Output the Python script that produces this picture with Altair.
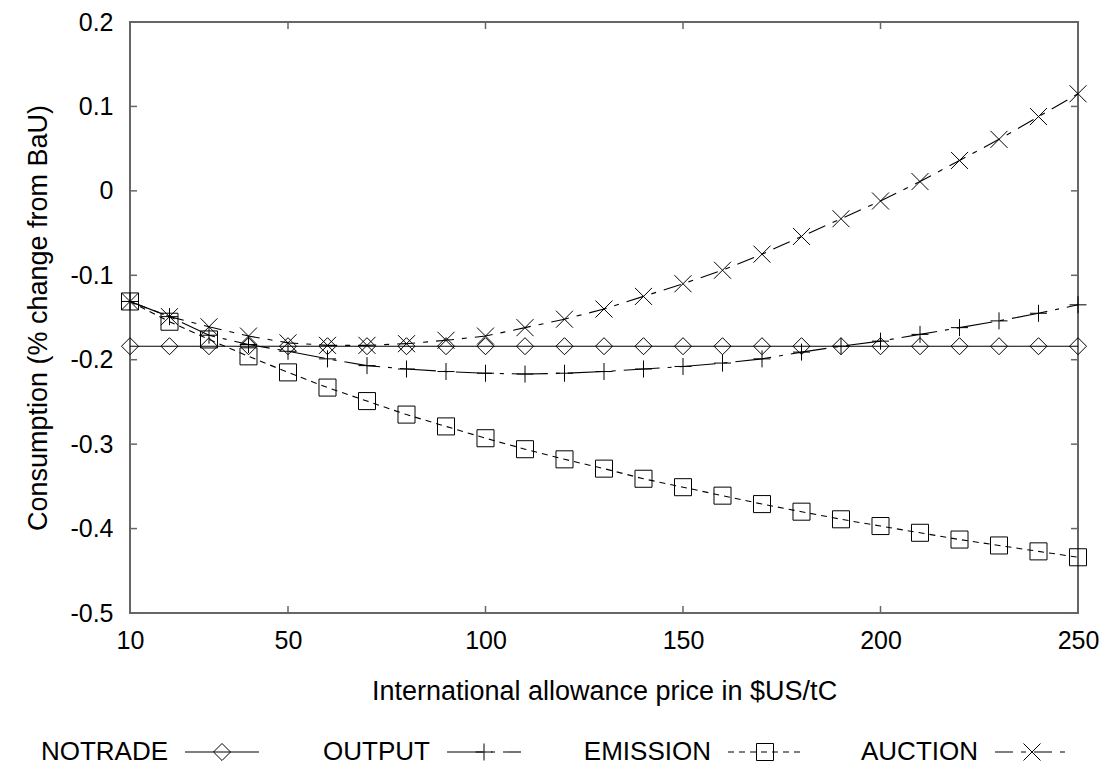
import altair as alt
import pandas as pd

# ---------------- data ----------------
price = [10, 20, 30, 40, 50, 60, 70, 80, 90, 100, 110, 120, 130,
         140, 150, 160, 170, 180, 190, 200, 210, 220, 230, 240, 250]

notrade = [-0.184, -0.184, -0.184, -0.184, -0.184, -0.184, -0.184, -0.184,
           -0.184, -0.184, -0.184, -0.184, -0.184, -0.184, -0.184, -0.184,
           -0.184, -0.184, -0.184, -0.184, -0.184, -0.184, -0.184, -0.184, -0.184]

output = [-0.131, -0.149, -0.171, -0.182, -0.190, -0.199, -0.207, -0.211,
          -0.214, -0.216, -0.217, -0.216, -0.214, -0.211, -0.208, -0.204,
          -0.199, -0.191, -0.184, -0.178, -0.170, -0.162, -0.154, -0.145, -0.135]

emission = [-0.131, -0.155, -0.176, -0.196, -0.215, -0.233, -0.249, -0.265,
            -0.279, -0.293, -0.306, -0.318, -0.329, -0.341, -0.351, -0.361,
            -0.371, -0.380, -0.389, -0.397, -0.405, -0.413, -0.420, -0.427, -0.434]

auction = [-0.131, -0.149, -0.161, -0.172, -0.180, -0.183, -0.183, -0.181,
           -0.177, -0.172, -0.162, -0.152, -0.140, -0.125, -0.110, -0.094,
           -0.075, -0.054, -0.033, -0.012, 0.011, 0.036, 0.061, 0.088, 0.115]

series_names = ["NOTRADE", "OUTPUT", "EMISSION", "AUCTION"]
x_ticks = [10, 50, 100, 150, 200, 250]
y_ticks = [0.2, 0.1, 0, -0.1, -0.2, -0.3, -0.4, -0.5]

# ---------------- styles ----------------
dashes = [[1, 0], [36, 8, 4, 8], [6, 5], [18, 8, 5, 8]]
shapes = ["diamond", "M-1,0L1,0M0,-1L0,1", "square", "M-1,-1L1,1M-1,1L1,-1"]
FONT = "Liberation Sans"
GRAY = "#666666"
W, H = 948, 591
MSIZE = 290

rows = []
for name, vals in zip(series_names, [notrade, output, emission, auction]):
    for p, v in zip(price, vals):
        rows.append({"price": p, "value": v, "series": name})
df = pd.DataFrame(rows)

xscale = alt.Scale(domain=[10, 250], nice=False, zero=False)
yscale = alt.Scale(domain=[-0.5, 0.2], nice=False, zero=False)

xaxis = alt.Axis(values=x_ticks, title="International allowance price in $US/tC",
                 labelExpr="'' + datum.value", labelPadding=15,
                 labelFlush=False, labelOverlap=False, labelBound=False,
                 titleX=W / 2, titleY=78, titleBaseline="middle",
                 titleAlign="center")
yaxis = alt.Axis(values=y_ticks, title="Consumption (% change from BaU)",
                 labelExpr="'' + datum.value", labelPadding=17,
                 labelOverlap=False, labelFlush=False, labelBound=False,
                 titleX=-92, titleY=H / 2, titleAngle=270,
                 titleBaseline="middle", titleAlign="center")

X = alt.X("price:Q", scale=xscale, axis=xaxis, title="International allowance price in $US/tC")
Y = alt.Y("value:Q", scale=yscale, axis=yaxis, title="Consumption (% change from BaU)")

base = alt.Chart(df)

lines = base.mark_line(color="black", strokeWidth=1.1).encode(
    x=X, y=Y,
    detail="series:N",
    strokeDash=alt.StrokeDash("series:N",
                              scale=alt.Scale(domain=series_names, range=dashes),
                              legend=None),
)

points = base.mark_point(filled=False, color="black", strokeWidth=1,
                         size=MSIZE, opacity=1).encode(
    x=X, y=Y,
    shape=alt.Shape("series:N",
                    scale=alt.Scale(domain=series_names, range=shapes),
                    legend=None),
)

# inward ticks on all four sides
ytick_df = pd.DataFrame({"value": y_ticks})
xtick_df = pd.DataFrame({"price": x_ticks})
TL = 7
tick_layers = [
    alt.Chart(ytick_df).mark_rule(color=GRAY, strokeWidth=1.5).encode(
        y=Y, x=alt.value(0), x2=alt.value(TL)),
    alt.Chart(ytick_df).mark_rule(color=GRAY, strokeWidth=1.5).encode(
        y=Y, x=alt.value(W - TL), x2=alt.value(W)),
    alt.Chart(xtick_df).mark_rule(color=GRAY, strokeWidth=1.5).encode(
        x=X, y=alt.value(H - TL), y2=alt.value(H)),
    alt.Chart(xtick_df).mark_rule(color=GRAY, strokeWidth=1.5).encode(
        x=X, y=alt.value(0), y2=alt.value(TL)),
]

# manual legend below the plot: label, then line sample with marker
LEG_Y = 730
legend_text_right = [38, 300, 581, 848]
SAMPLE_LEN = 74
legend_layers = []
for i, name in enumerate(series_names):
    d = pd.DataFrame({"series": [name]})
    tx = legend_text_right[i]
    s0 = tx + 17
    s1 = s0 + SAMPLE_LEN
    m = (s0 + s1) / 2
    legend_layers.append(
        alt.Chart(d).mark_text(align="right", baseline="middle", fontSize=26,
                               font=FONT, color="black").encode(
            x=alt.value(tx), y=alt.value(LEG_Y), text="series:N"))
    legend_layers.append(
        alt.Chart(d).mark_rule(color="black", strokeWidth=1.1,
                               strokeDash=dashes[i]).encode(
            x=alt.value(s0), x2=alt.value(s1), y=alt.value(LEG_Y)))
    legend_layers.append(
        alt.Chart(d).mark_point(shape=shapes[i], filled=False, color="black",
                                strokeWidth=1, size=MSIZE, opacity=1).encode(
            x=alt.value(m), y=alt.value(LEG_Y)))

chart = alt.layer(lines, points, *tick_layers, *legend_layers).properties(
    width=W, height=H,
    padding={"left": 122, "top": 14, "right": 22, "bottom": 153},
    autosize=alt.AutoSizeParams(type="none"),
    background="white",
).configure_view(
    stroke=GRAY, strokeWidth=2
).configure_axis(
    domain=False, ticks=False, grid=False,
    labelFont=FONT, labelFontSize=25, labelColor="black",
    titleFont=FONT, titleFontSize=27, titleFontWeight="normal", titleColor="black",
)

chart.save("out.html", embed_options={"renderer": "svg", "actions": False})
